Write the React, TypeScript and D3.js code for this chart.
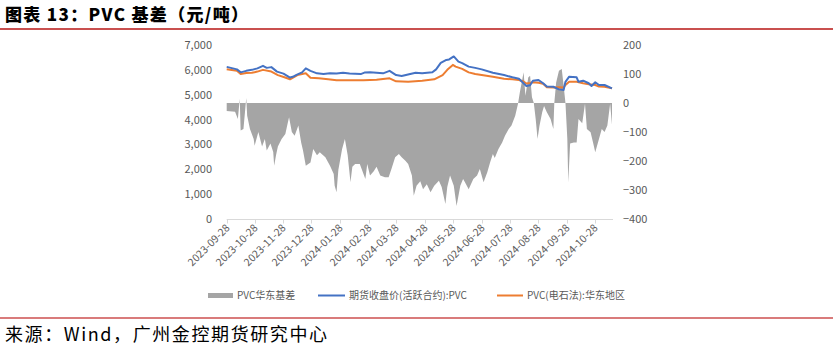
import React, { useEffect, useRef } from "react";
import * as d3 from "d3";

// 期货收盘价(活跃合约):PVC
const futures: [string, number][] = [
  ["2023-09-28", 6120], ["2023-10-09", 6020], ["2023-10-13", 5900], ["2023-10-19", 5960],
  ["2023-10-25", 6000], ["2023-10-31", 6060], ["2023-11-06", 6160], ["2023-11-10", 6080],
  ["2023-11-15", 6110], ["2023-11-21", 5930], ["2023-11-28", 5850], ["2023-12-05", 5690],
  ["2023-12-08", 5720], ["2023-12-12", 5800], ["2023-12-18", 5900], ["2023-12-22", 6060],
  ["2023-12-27", 5960], ["2024-01-03", 5860], ["2024-01-10", 5830], ["2024-01-17", 5860],
  ["2024-01-24", 5850], ["2024-01-31", 5880], ["2024-02-07", 5850], ["2024-02-19", 5830],
  ["2024-02-23", 5890], ["2024-02-29", 5900], ["2024-03-07", 5880], ["2024-03-14", 5860],
  ["2024-03-21", 5960], ["2024-03-28", 5790], ["2024-04-03", 5750], ["2024-04-11", 5820],
  ["2024-04-18", 5880], ["2024-04-25", 5860], ["2024-05-06", 5900], ["2024-05-10", 6020],
  ["2024-05-15", 6280], ["2024-05-21", 6400], ["2024-05-24", 6420], ["2024-05-29", 6540],
  ["2024-06-03", 6330], ["2024-06-07", 6270], ["2024-06-14", 6130], ["2024-06-21", 6080],
  ["2024-06-28", 6020], ["2024-07-10", 5885], ["2024-07-22", 5790], ["2024-07-31", 5700],
  ["2024-08-07", 5640], ["2024-08-12", 5460], ["2024-08-15", 5350], ["2024-08-19", 5380],
  ["2024-08-22", 5560], ["2024-08-28", 5590], ["2024-09-02", 5460], ["2024-09-06", 5330],
  ["2024-09-13", 5320], ["2024-09-19", 5215], ["2024-09-24", 5190], ["2024-09-26", 5520],
  ["2024-09-30", 5725], ["2024-10-08", 5700], ["2024-10-10", 5520], ["2024-10-15", 5565],
  ["2024-10-21", 5460], ["2024-10-24", 5350], ["2024-10-28", 5500], ["2024-11-01", 5390],
  ["2024-11-07", 5390], ["2024-11-15", 5255],
];

// PVC(电石法):华东地区
const spot: [string, number][] = [
  ["2023-09-28", 6020], ["2023-10-09", 5960], ["2023-10-13", 5830], ["2023-10-19", 5870],
  ["2023-10-25", 5880], ["2023-10-31", 5930], ["2023-11-06", 6000], ["2023-11-15", 5930],
  ["2023-11-22", 5790], ["2023-11-29", 5700], ["2023-12-05", 5620], ["2023-12-13", 5790],
  ["2023-12-22", 5860], ["2023-12-27", 5680], ["2024-01-05", 5660], ["2024-01-15", 5620],
  ["2024-01-24", 5580], ["2024-02-05", 5580], ["2024-02-22", 5580], ["2024-03-07", 5600],
  ["2024-03-21", 5660], ["2024-03-28", 5540], ["2024-04-10", 5520], ["2024-04-25", 5560],
  ["2024-05-08", 5620], ["2024-05-17", 5790], ["2024-05-22", 6000], ["2024-05-28", 6200],
  ["2024-05-31", 6130], ["2024-06-07", 6040], ["2024-06-14", 5900], ["2024-06-21", 5830],
  ["2024-06-28", 5790], ["2024-07-10", 5720], ["2024-07-22", 5640], ["2024-07-31", 5620],
  ["2024-08-07", 5590], ["2024-08-12", 5530], ["2024-08-15", 5450], ["2024-08-19", 5470],
  ["2024-08-22", 5500], ["2024-08-28", 5480], ["2024-09-02", 5440], ["2024-09-06", 5300],
  ["2024-09-13", 5290], ["2024-09-19", 5300], ["2024-09-24", 5290], ["2024-09-26", 5390],
  ["2024-09-30", 5520], ["2024-10-08", 5520], ["2024-10-15", 5460], ["2024-10-21", 5420],
  ["2024-10-28", 5390], ["2024-11-01", 5330], ["2024-11-07", 5320], ["2024-11-15", 5255],
];

// PVC华东基差 (right axis)
const basis: [string, number][] = [
  ["2023-09-28", -28], ["2023-10-07", -30], ["2023-10-10", -55], ["2023-10-12", 15],
  ["2023-10-13", -95], ["2023-10-16", -90], ["2023-10-19", 17], ["2023-10-20", -44],
  ["2023-10-23", -90], ["2023-10-27", -124], ["2023-10-28", -147], ["2023-11-01", -100],
  ["2023-11-05", -150], ["2023-11-08", -124], ["2023-11-10", -164], ["2023-11-14", -140],
  ["2023-11-17", -169], ["2023-11-18", -216], ["2023-11-20", -180], ["2023-11-22", -150],
  ["2023-11-26", -124], ["2023-11-30", -107], ["2023-12-02", -78], ["2023-12-04", -49],
  ["2023-12-07", -100], ["2023-12-10", -113], ["2023-12-14", -78], ["2023-12-17", -136],
  ["2023-12-19", -164], ["2023-12-22", -216], ["2023-12-27", -205], ["2023-12-30", -159],
  ["2024-01-03", -180], ["2024-01-06", -170], ["2024-01-12", -187], ["2024-01-17", -216],
  ["2024-01-21", -245], ["2024-01-22", -285], ["2024-01-24", -308], ["2024-01-26", -230],
  ["2024-01-30", -159], ["2024-02-02", -124], ["2024-02-05", -180], ["2024-02-08", -273],
  ["2024-02-10", -220], ["2024-02-13", -210], ["2024-02-18", -210], ["2024-02-24", -262],
  ["2024-02-26", -210], ["2024-02-29", -250], ["2024-03-04", -235], ["2024-03-07", -220],
  ["2024-03-11", -250], ["2024-03-16", -256], ["2024-03-20", -256], ["2024-03-23", -228],
  ["2024-03-27", -187], ["2024-03-31", -176], ["2024-04-03", -187], ["2024-04-07", -199],
  ["2024-04-10", -210], ["2024-04-14", -250], ["2024-04-16", -320], ["2024-04-19", -285],
  ["2024-04-23", -270], ["2024-04-26", -297], ["2024-04-30", -280], ["2024-05-04", -308],
  ["2024-05-08", -285], ["2024-05-13", -268], ["2024-05-16", -290], ["2024-05-20", -348],
  ["2024-05-22", -290], ["2024-05-25", -250], ["2024-05-29", -285], ["2024-06-01", -355],
  ["2024-06-05", -285], ["2024-06-08", -262], ["2024-06-10", -273], ["2024-06-14", -297],
  ["2024-06-19", -262], ["2024-06-23", -250], ["2024-06-26", -228], ["2024-06-30", -273],
  ["2024-07-04", -239], ["2024-07-07", -205], ["2024-07-10", -176], ["2024-07-12", -190],
  ["2024-07-16", -159], ["2024-07-20", -136], ["2024-07-23", -113], ["2024-07-27", -90],
  ["2024-07-30", -78], ["2024-08-03", -44], ["2024-08-06", -3], ["2024-08-08", 37],
  ["2024-08-10", 71], ["2024-08-12", 106], ["2024-08-14", 25], ["2024-08-17", 88],
  ["2024-08-19", 94], ["2024-08-21", 20], ["2024-08-23", 0], ["2024-08-25", -55],
  ["2024-08-27", -124], ["2024-08-29", -80], ["2024-09-01", -32], ["2024-09-03", -10],
  ["2024-09-06", -32], ["2024-09-10", -55], ["2024-09-13", -90], ["2024-09-14", 0],
  ["2024-09-16", 71], ["2024-09-19", 111], ["2024-09-22", 117], ["2024-09-24", 60],
  ["2024-09-26", 0], ["2024-09-28", -124], ["2024-09-29", -273], ["2024-10-01", -140],
  ["2024-10-05", -136], ["2024-10-08", -136], ["2024-10-10", -55], ["2024-10-14", -70],
  ["2024-10-17", -3], ["2024-10-19", -90], ["2024-10-23", -101], ["2024-10-26", -141],
  ["2024-10-28", -170], ["2024-11-01", -124], ["2024-11-04", -90], ["2024-11-07", -100],
  ["2024-11-10", -78], ["2024-11-13", -3], ["2024-11-15", -75],
];

const tickDates = [
  "2023-09-28", "2023-10-28", "2023-11-28", "2023-12-28", "2024-01-28", "2024-02-28",
  "2024-03-28", "2024-04-28", "2024-05-28", "2024-06-28", "2024-07-28", "2024-08-28",
  "2024-09-28", "2024-10-28",
];
const leftTicks = [0, 1000, 2000, 3000, 4000, 5000, 6000, 7000];
const rightTicks = [-400, -300, -200, -100, 0, 100, 200];

const font = "'Noto Sans CJK SC', 'Noto Sans', sans-serif";

const App = () => {
  const ref = useRef<SVGSVGElement>(null);

  useEffect(() => {
    const svg = d3.select(ref.current);
    svg.selectAll("*").remove();

    const parse = d3.timeParse("%Y-%m-%d");
    const x = d3
      .scaleTime()
      .domain([parse("2023-09-28")!, parse("2024-11-15")!])
      .range([226.7, 612]);
    const yL = d3.scaleLinear().domain([0, 7000]).range([219, 45]);
    const yR = d3.scaleLinear().domain([-400, 200]).range([219, 45]);

    svg.append("rect").attr("width", 833).attr("height", 351).attr("fill", "#fff");

    // title + rules
    svg
      .append("text")
      .attr("x", 5)
      .attr("y", 21)
      .attr("font-family", font)
      .attr("font-weight", 900)
      .attr("font-size", 17)
      .attr("textLength", 243)
      .attr("lengthAdjust", "spacing")
      .attr("fill", "#000")
      .text("图表 13：PVC 基差（元/吨）");
    svg.append("rect").attr("x", 0).attr("y", 28).attr("width", 833).attr("height", 2).attr("fill", "#c9504f");
    svg.append("rect").attr("x", 0).attr("y", 317).attr("width", 833).attr("height", 2).attr("fill", "#d97b7b");
    svg
      .append("text")
      .attr("x", 5)
      .attr("y", 341)
      .attr("font-family", font)
      .attr("font-size", 18)
      .attr("textLength", 322)
      .attr("lengthAdjust", "spacing")
      .attr("fill", "#000")
      .text("来源：Wind，广州金控期货研究中心");

    // basis area
    const area = d3
      .area<[string, number]>()
      .x((d) => x(parse(d[0])!))
      .y0(yR(0))
      .y1((d) => yR(d[1]));
    svg.append("path").datum(basis).attr("d", area).attr("fill", "#a5a5a5");

    const line = d3
      .line<[string, number]>()
      .x((d) => x(parse(d[0])!))
      .y((d) => yL(d[1]));
    svg
      .append("path")
      .datum(spot)
      .attr("d", line)
      .attr("fill", "none")
      .attr("stroke", "#ed7d31")
      .attr("stroke-width", 2)
      .attr("stroke-linejoin", "round");
    svg
      .append("path")
      .datum(futures)
      .attr("d", line)
      .attr("fill", "none")
      .attr("stroke", "#4472c4")
      .attr("stroke-width", 2)
      .attr("stroke-linejoin", "round");

    // x axis
    svg
      .append("line")
      .attr("x1", 226.7)
      .attr("x2", 613)
      .attr("y1", 219.5)
      .attr("y2", 219.5)
      .attr("stroke", "#d9d9d9");
    const xt = svg.append("g").selectAll("g").data(tickDates).join("g")
      .attr("transform", (d) => `translate(${Math.round(x(parse(d)!)) + 0.5},219.5)`);
    xt.append("line").attr("y2", 4).attr("stroke", "#d9d9d9");
    xt.append("text")
      .attr("transform", "translate(3,9) rotate(-45)")
      .attr("text-anchor", "end")
      .attr("font-family", font)
      .attr("font-size", 10.5)
      .attr("fill", "#595959")
      .text((d) => d);

    // y axes
    svg
      .append("g")
      .selectAll("text")
      .data(leftTicks)
      .join("text")
      .attr("x", 212)
      .attr("y", (d) => yL(d) + 4)
      .attr("text-anchor", "end")
      .attr("font-family", font)
      .attr("font-size", 11)
      .attr("fill", "#595959")
      .text((d) => d3.format(",")(d));
    svg
      .append("g")
      .selectAll("text")
      .data(rightTicks)
      .join("text")
      .attr("x", 623)
      .attr("y", (d) => yR(d) + 4)
      .attr("font-family", font)
      .attr("font-size", 11)
      .attr("fill", "#595959")
      .text((d) => d3.format("")(d));

    // legend
    const lg = svg.append("g").attr("font-family", font).attr("font-size", 10).attr("fill", "#595959");
    lg.append("rect").attr("x", 208).attr("y", 293).attr("width", 25).attr("height", 5).attr("fill", "#a5a5a5");
    lg.append("text").attr("x", 237).attr("y", 299).text("PVC华东基差");
    lg.append("line").attr("x1", 318).attr("x2", 345).attr("y1", 295.5).attr("y2", 295.5).attr("stroke", "#4472c4").attr("stroke-width", 2);
    lg.append("text").attr("x", 349).attr("y", 299).text("期货收盘价(活跃合约):PVC");
    lg.append("line").attr("x1", 497).attr("x2", 523).attr("y1", 295.5).attr("y2", 295.5).attr("stroke", "#ed7d31").attr("stroke-width", 2);
    lg.append("text").attr("x", 527).attr("y", 299).text("PVC(电石法):华东地区");
  }, []);

  return (
    <svg
      ref={ref}
      width={833}
      height={351}
      style={{ position: "absolute", left: 0, top: 0, display: "block" }}
    />
  );
};

export default App;
